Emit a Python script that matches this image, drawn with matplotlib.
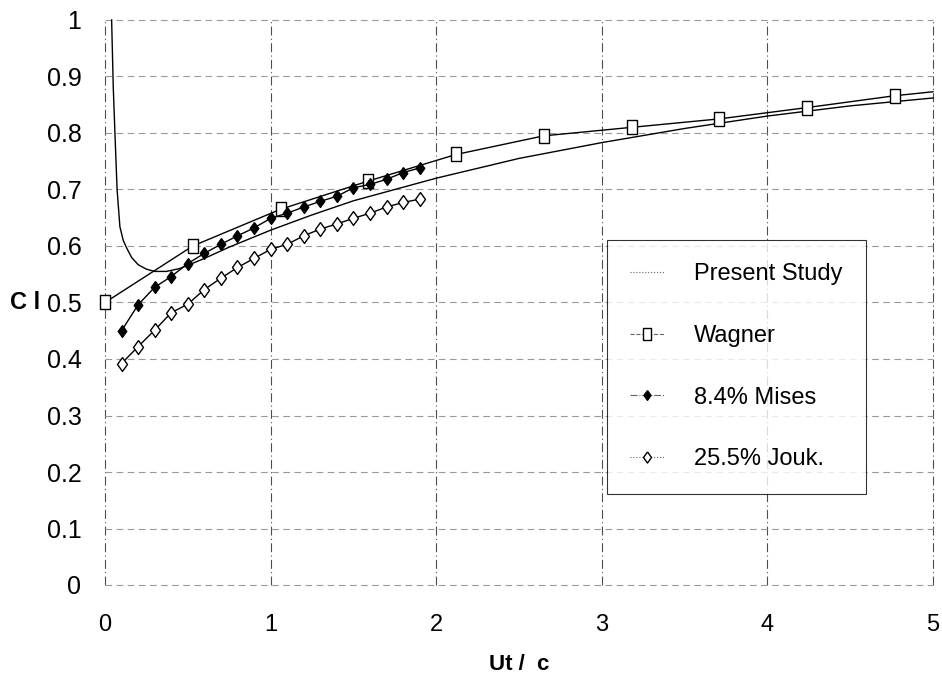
import matplotlib
matplotlib.use("Agg")
import matplotlib.pyplot as plt
from matplotlib.lines import Line2D

plt.rcParams['font.family'] = ['Liberation Sans', 'DejaVu Sans']

# present study (continuous curve)
ps_x = [0.04, 0.05, 0.06, 0.073, 0.09, 0.11, 0.13, 0.16, 0.2, 0.25, 0.3, 0.37, 0.45, 0.51,
        0.6, 0.75, 1.0, 1.25, 1.5, 1.75, 2.0, 2.5, 3.0, 3.5, 4.0, 4.5, 5.0]
ps_y = [1.0, 0.88, 0.80, 0.70, 0.634, 0.61, 0.597, 0.58, 0.567, 0.559, 0.555, 0.555, 0.56, 0.567,
        0.578, 0.598, 0.628, 0.655, 0.68, 0.70, 0.72, 0.755, 0.783, 0.808, 0.830, 0.848, 0.862]

# Wagner function (last point only extends the line)
wag_x = [0, 0.53, 1.06, 1.59, 2.12, 2.65, 3.18, 3.71, 4.24, 4.77, 5.0]
wag_y = [0.50, 0.60, 0.665, 0.715, 0.762, 0.795, 0.81, 0.825, 0.845, 0.866, 0.873]

# airfoil sections
sec_x = [0.1, 0.2, 0.3, 0.4, 0.5, 0.6, 0.7, 0.8, 0.9, 1.0,
         1.1, 1.2, 1.3, 1.4, 1.5, 1.6, 1.7, 1.8, 1.9]
mises_y = [0.45, 0.496, 0.527, 0.546, 0.569, 0.587, 0.603, 0.618, 0.632, 0.649,
           0.658, 0.669, 0.679, 0.688, 0.703, 0.709, 0.718, 0.730, 0.738]
jouk_y = [0.392, 0.422, 0.451, 0.482, 0.497, 0.523, 0.543, 0.562, 0.578, 0.594,
          0.603, 0.618, 0.630, 0.639, 0.649, 0.658, 0.669, 0.677, 0.683]

x_ticks = [0, 1, 2, 3, 4, 5]
y_ticks = [0, 0.1, 0.2, 0.3, 0.4, 0.5, 0.6, 0.7, 0.8, 0.9, 1.0]
y_labels = ['0', '0.1', '0.2', '0.3', '0.4', '0.5', '0.6', '0.7', '0.8', '0.9', '1']

rect = [(-0.75, -1), (0.75, -1), (0.75, 1), (-0.75, 1), (-0.75, -1)]
diam = [(0, 1), (0.72, 0), (0, -1), (-0.72, 0), (0, 1)]

fig = plt.figure(figsize=(9.42, 6.74), dpi=100)
ax = fig.add_axes([105 / 942, 89 / 674, 828 / 942, 565 / 674])

ax.plot(ps_x, ps_y, color='black', lw=1.0, clip_on=False, zorder=3)
ax.plot(wag_x, wag_y, color='black', lw=1.0, marker=rect, ms=9.5, mfc='white', mec='black',
        mew=1.0, markevery=slice(0, 10), clip_on=False, zorder=4)
ax.plot(sec_x, mises_y, color='black', lw=1.0, marker=diam, ms=8.5, mfc='black', mec='black',
        clip_on=False, zorder=4)
ax.plot(sec_x, jouk_y, color='black', lw=1.0, marker=diam, ms=10, mfc='white', mec='black',
        mew=1.0, clip_on=False, zorder=4)

ax.set_xlim(0, 5)
ax.set_ylim(0, 1)
ax.set_xticks(x_ticks)
ax.set_yticks(y_ticks)
ax.set_yticklabels(y_labels)
ax.tick_params(length=0)
ax.tick_params(axis='x', labelsize=17, pad=21)
ax.tick_params(axis='y', labelsize=18, pad=17)

for s in ax.spines.values():
    s.set_visible(False)
ax.grid(axis='x', color='0.3', lw=0.8, linestyle=(0, (8, 3, 1, 3)))
ax.grid(axis='y', color='0.6', lw=0.8, linestyle=(0, (6, 4)))
for gl in ax.get_xgridlines() + ax.get_ygridlines():
    gl.set_clip_on(False)

ax.set_xlabel('Ut /  c', fontsize=16, fontweight='bold')
ax.xaxis.set_label_coords(0.5, -0.122)
ax.set_ylabel('C l', fontsize=17, fontweight='bold', rotation=0, va='center', ha='center')
ax.yaxis.set_label_coords(-0.097, 0.5)

handles = [
    Line2D([], [], color='0.4', lw=0.8, linestyle=':'),
    Line2D([], [], color='0.4', lw=0.8, linestyle='--', marker=rect, ms=8, mfc='white', mec='black'),
    Line2D([], [], color='0.4', lw=0.8, linestyle='-.', marker=diam, ms=7, mfc='black', mec='black'),
    Line2D([], [], color='0.4', lw=0.8, linestyle=':', marker=diam, ms=8, mfc='white', mec='black'),
]
labels = ['Present Study', 'Wagner', '8.4% Mises', '25.5% Jouk.']
leg = ax.legend(handles, labels, loc='upper left', bbox_to_anchor=(0.606, 0.611),
                fontsize=17, frameon=True, fancybox=False, edgecolor='black',
                labelspacing=1.68, handlelength=1.45, handletextpad=1.25, borderpad=1.0,
                borderaxespad=0)
leg.get_frame().set_linewidth(0.8)
leg.set_zorder(5)

fig.savefig('out.png', dpi=100, facecolor='white')
